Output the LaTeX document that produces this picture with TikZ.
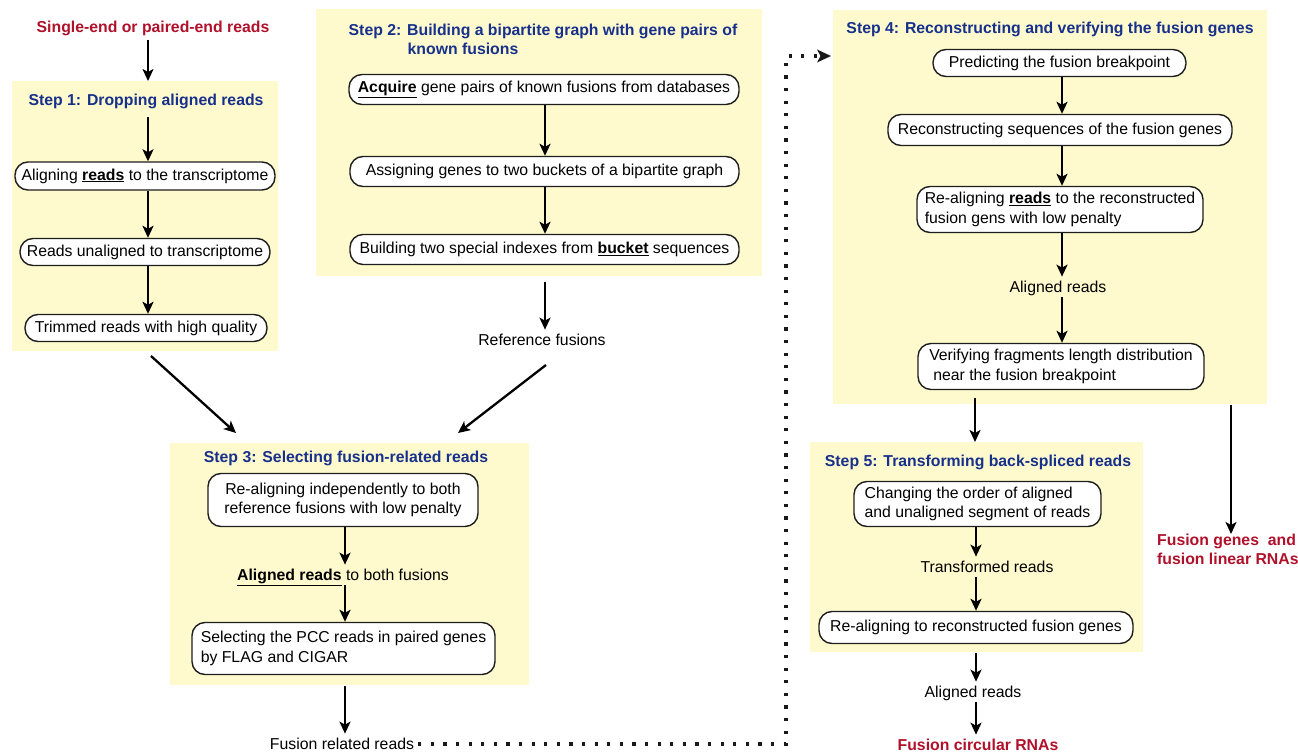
\documentclass[tikz,border=0pt]{standalone}
\usepackage{fontspec}
\setmainfont{Liberation Sans}
\usetikzlibrary{arrows.meta}
\definecolor{panel}{RGB}{255,250,205}
\definecolor{ttl}{RGB}{22,48,140}
\definecolor{outred}{RGB}{176,16,42}
\definecolor{boxline}{RGB}{30,30,30}
\begin{document}
\begin{tikzpicture}[x=1pt,y=-1pt,
  every node/.style={font=\fontsize{15.8}{19.5}\selectfont},
  panelbox/.style={fill=panel, draw=none, inner sep=0pt, anchor=north west},
  stepbox/.style={draw=boxline, line width=1.4pt, rounded corners=13pt, fill=white, inner sep=2pt, align=center},
  plain/.style={inner sep=4pt, text height=11.3pt, text depth=1pt},
  steptitle/.style={plain, text=ttl, font=\fontsize{15.8}{19.5}\selectfont\bfseries},
  outtext/.style={plain, text=outred, font=\fontsize{15.8}{19.5}\selectfont\bfseries},
  arr/.style={-{Stealth[length=12pt,width=11pt,inset=3pt]}, line width=2.3pt, black},
  dotline/.style={line width=3.2pt, dash pattern=on 3.2pt off 9.4pt, draw=black!90,
    -{Stealth[length=14pt,width=13pt,inset=3.5pt,line width=0pt]}}
]
\useasboundingbox (0,0) rectangle (1298,754);

% panels
\node[panelbox, minimum width=266pt, minimum height=270pt] (s1) at (12,81) {};
\node[panelbox, minimum width=446pt, minimum height=267pt] (s2) at (316,9) {};
\node[panelbox, minimum width=359pt, minimum height=242pt] (s3) at (170,443) {};
\node[panelbox, minimum width=434pt, minimum height=394pt] (s4) at (833,10) {};
\node[panelbox, minimum width=333pt, minimum height=210pt] (s5) at (810,442) {};

% column coordinates for vertical arrows
\coordinate (c1) at (148,0);
\coordinate (c2) at (545,0);
\coordinate (c3) at (345,0);
\coordinate (c4) at (1062,0);
\coordinate (c5) at (976,0);

% step 1
\node[outtext] (inp) at (153,27) {Single-end or paired-end reads};
\node[steptitle] (t1) at (146,100) {Step 1: Dropping aligned reads};
\node[stepbox, minimum width=260pt, minimum height=28pt] (b11) at (145,176) {Aligning \underline{\textbf{reads}} to the transcriptome};
\node[stepbox, minimum width=250pt, minimum height=27pt] (b12) at (145,252) {Reads unaligned to transcriptome};
\node[stepbox, minimum width=242pt, minimum height=27pt] (b13) at (146,328) {Trimmed reads with high quality};

% step 2
\node[text=ttl, font=\fontsize{15.8}{19}\selectfont\bfseries, align=left, inner sep=0pt] (t2) at (543,39.5)
  {Step 2: Building a bipartite graph with gene pairs of\\\hspace*{59pt}known fusions};
\node[stepbox, minimum width=390pt, minimum height=30pt] (b21) at (544,89.5) {\underline{\textbf{Acquire}} gene pairs of known fusions from databases};
\node[stepbox, minimum width=389pt, minimum height=30pt] (b22) at (544.5,171.5) {Assigning genes to two buckets of a bipartite graph};
\node[stepbox, minimum width=389pt, minimum height=30pt] (b23) at (544.5,249.5) {Building two special indexes from \underline{\textbf{bucket}} sequences};
\node[plain] (ref) at (542,340) {Reference fusions};

% step 3
\node[steptitle] (t3) at (346,457) {Step 3: Selecting fusion-related reads};
\node[stepbox, minimum width=270pt, minimum height=53pt] (b31) at (343,500) {Re-aligning independently to both\\reference fusions with low penalty};
\node[plain] (a3) at (343,575) {\underline{\textbf{Aligned reads}} to both fusions};
\node[stepbox, minimum width=303pt, minimum height=52pt, align=left] (b32) at (343.5,648.5) {Selecting the PCC reads in paired genes\\by FLAG and CIGAR};
\node[plain] (frr) at (342,744) {Fusion related reads};

% step 4
\node[steptitle] (t4) at (1050,28) {Step 4: Reconstructing and verifying the fusion genes};
\node[stepbox, minimum width=253pt, minimum height=27pt] (b41) at (1059.5,63) {Predicting the fusion breakpoint};
\node[stepbox, minimum width=344pt, minimum height=31pt] (b42) at (1060,130) {Reconstructing sequences of the fusion genes};
\node[stepbox, minimum width=286pt, minimum height=46pt, align=left] (b43) at (1060,209.5) {Re-aligning \underline{\textbf{reads}} to the reconstructed\\fusion gens with low penalty};
\node[plain] (a4) at (1058,287) {Aligned reads};
\node[stepbox, minimum width=286pt, minimum height=46pt, align=left] (b44) at (1061,366.5) {Verifying fragments length distribution\\\hspace*{4pt}near the fusion breakpoint};

% step 5
\node[steptitle] (t5) at (978,461) {Step 5: Transforming back-spliced reads};
\node[stepbox, minimum width=247pt, minimum height=45pt, align=left] (b51) at (977.5,504) {Changing the order of aligned\\and unaligned segment of reads};
\node[plain] (tr5) at (987,567) {Transformed reads};
\node[stepbox, minimum width=314pt, minimum height=32pt] (b52) at (976,627.5) {Re-aligning to reconstructed fusion genes};
\node[plain] (a5) at (973,692) {Aligned reads};
\node[outtext] (circ) at (978,745) {Fusion circular RNAs};

\node[text=outred, font=\fontsize{15.8}{19}\selectfont\bfseries, align=left, inner sep=0pt, anchor=west] (lin) at (1157,549.5) {Fusion genes~ and\\fusion linear RNAs};

% arrows step 1
\draw[arr] (c1 |- inp.south) ++(0,3) -- (c1 |- s1.north);
\draw[arr] (c1 |- t1.south) ++(0,7) -- (c1 |- b11.north);
\draw[arr] (c1 |- b11.south) -- (c1 |- b12.north);
\draw[arr] (c1 |- b12.south) -- (c1 |- b13.north);
\coordinate (d1a) at (151,356);
\coordinate (d1b) at (236,433);
\draw[arr] (d1a) -- (d1b);

% arrows step 2
\draw[arr] (c2 |- b21.south) -- (c2 |- b22.north);
\draw[arr] (c2 |- b22.south) -- (c2 |- b23.north);
\draw[arr] (c2 |- s2.south) ++(0,6) -- (c2 |- ref.north);
\coordinate (d2a) at (546,365);
\coordinate (d2b) at (458,433);
\draw[arr] (d2a) -- (d2b);

% arrows step 3
\draw[arr] (c3 |- b31.south) -- (c3 |- a3.north);
\draw[arr] (c3 |- a3.south) -- (c3 |- b32.north);
\draw[arr] (c3 |- s3.south) ++(0,1) -- (c3 |- frr.north);

% arrows step 4
\draw[arr] (c4 |- b41.south) -- (c4 |- b42.north);
\draw[arr] (c4 |- b42.south) -- (c4 |- b43.north);
\draw[arr] (c4 |- b43.south) -- (c4 |- a4.north);
\draw[arr] (c4 |- a4.south) -- (c4 |- b44.north);
\coordinate (d4a) at (975,398);
\draw[arr] (d4a) -- (d4a |- s5.north);
\coordinate (d4b) at (1231,405);
\draw[arr] (d4b) -- (d4b |- lin.north);

% arrows step 5
\draw[arr] (c5 |- b51.south) -- (c5 |- tr5.north);
\draw[arr] (c5 |- tr5.south) -- (c5 |- b52.north);
\draw[arr] (c5 |- s5.south) ++(0,1) -- (c5 |- a5.north);
\draw[arr] (c5 |- a5.south) -- (c5 |- circ.north);

% dotted connector
\coordinate (dc) at (786,744);
\coordinate (dt) at (831,56);
\draw[dotline] (frr.east) -- (dc) |- (dt);
\end{tikzpicture}
\end{document}
